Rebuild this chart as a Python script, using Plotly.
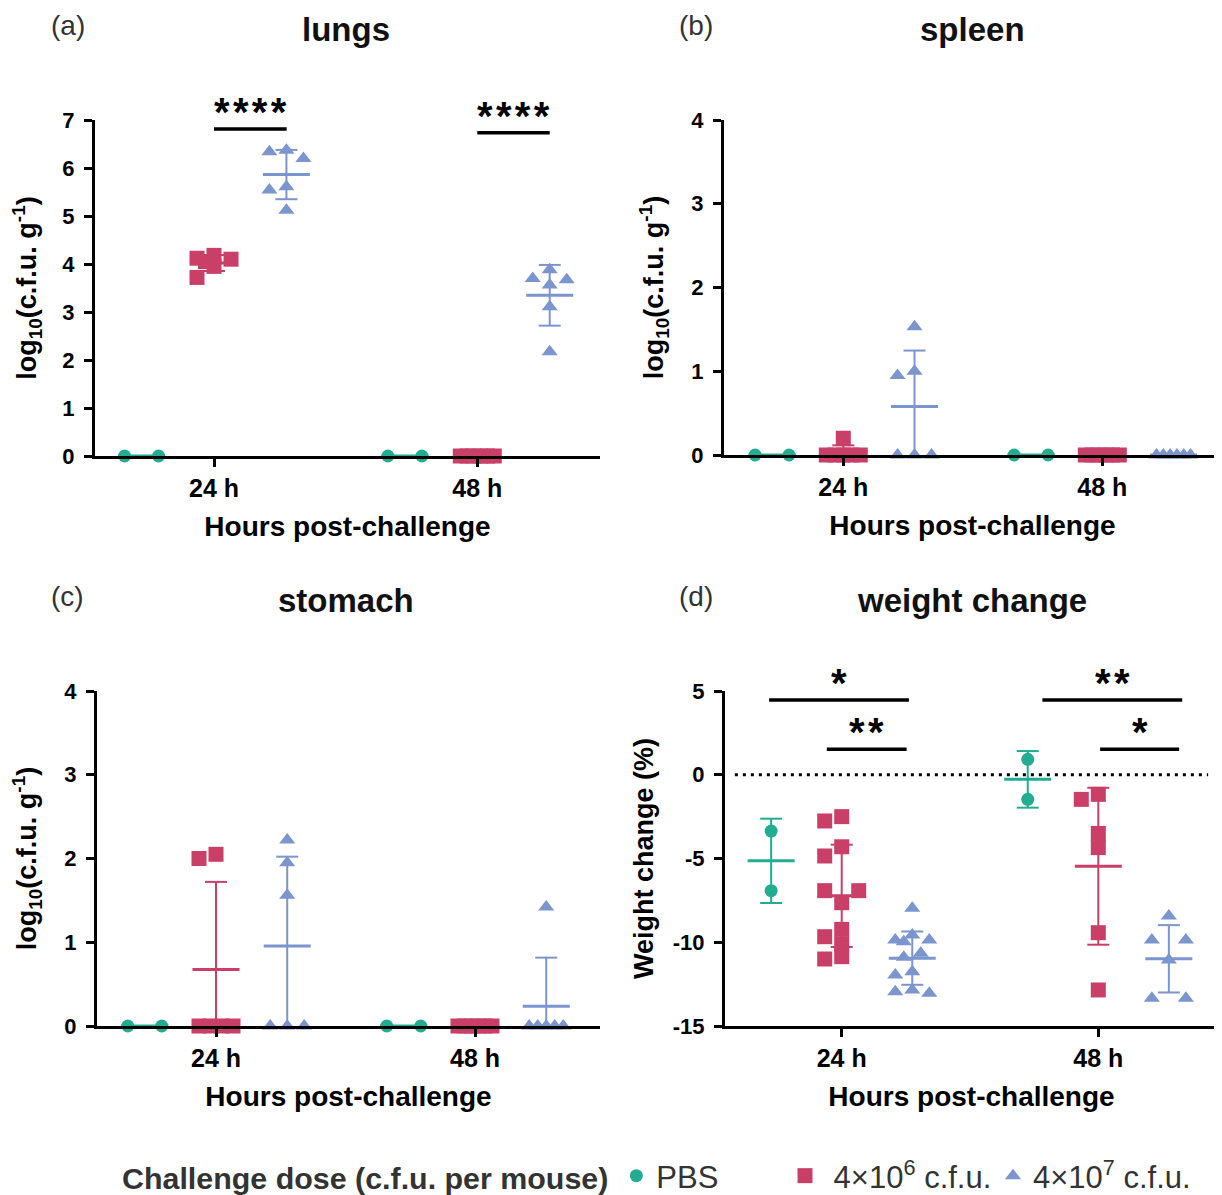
import numpy as np
import plotly.graph_objects as go

# ---------------- data ----------------
time_labels = ["24 h", "48 h"]
group_names = ["PBS", "\u00a04×10<sup>6</sup> c.f.u.", "4×10<sup>7</sup> c.f.u."]

lungs_pbs_24 = [0, 0]
lungs_pbs_48 = [0, 0]
lungs_low_24 = [4.18, 4.12, 4.10, 4.05, 3.95, 3.72]
lungs_low_48 = [0, 0, 0, 0, 0, 0]
lungs_high_24 = [6.34, 6.20, 6.37, 5.61, 5.54, 5.12]
lungs_high_48 = [3.67, 3.70, 3.88, 3.56, 3.11, 2.17]

spleen_pbs_24 = [0, 0]
spleen_pbs_48 = [0, 0]
spleen_low_24 = [0.20, 0, 0, 0, 0, 0]
spleen_low_48 = [0, 0, 0, 0, 0, 0]
spleen_high_24 = [1.53, 1.00, 0.95, 0, 0, 0]
spleen_high_48 = [0, 0, 0, 0, 0, 0]

stomach_pbs_24 = [0, 0]
stomach_pbs_48 = [0, 0]
stomach_low_24 = [2.00, 2.05, 0, 0, 0, 0]
stomach_low_48 = [0, 0, 0, 0, 0, 0]
stomach_high_24 = [2.22, 1.95, 1.56, 0, 0, 0]
stomach_high_48 = [1.42, 0, 0, 0, 0, 0]

weight_pbs_24 = [-3.36, -6.92]
weight_pbs_48 = [0.92, -1.47]
weight_low_24 = [-2.76, -2.50, -4.30, -4.85, -6.92, -6.92, -7.64, -9.23, -9.67, -10.10, -11.00, -10.86]
weight_low_48 = [-1.47, -1.17, -3.50, -4.35, -9.43, -12.85]
weight_high_24 = [-7.97, -9.87, -9.57, -9.97, -9.87, -10.66, -10.90, -11.76, -11.96, -13.05, -12.85, -12.95]
weight_high_48 = [-8.43, -9.87, -9.87, -11.06, -13.35, -13.35]

log_ticks = [0, 1, 2, 3, 4, 5, 6, 7]
log_ticks_small = [0, 1, 2, 3, 4]
weight_ticks = [-15, -10, -5, 0, 5]
weight_ticktext = ["-15", "-10", "-5", "0", "5"]

# ---------------- styles ----------------
W, H = 1222, 1195
OFF = 8  # page body margin offset of the rendered html
COLORS = ["#22AD93", "#C93F68", "#7B95CE"]
SYMBOLS = ["circle", "square", "triangle-up"]
SIZES = [13, 15, 14]
FONT = "Liberation Sans, Arial, sans-serif"
GROUP_OFF = 0.275


def px2x(px):
    return (px - OFF) / W


def px2y(py):
    return 1 - (py - OFF) / H


panels = [
    dict(name="a", title="lungs",
         data=[[lungs_pbs_24, lungs_pbs_48], [lungs_low_24, lungs_low_48], [lungs_high_24, lungs_high_48]],
         L=95, R=600, t1=214, t2=477.3, top=120, bot=456, yr=[0, 7], ticks=log_ticks, ticktext=None,
         ytitle="log<sub>10</sub>(c.f.u. g<sup>-1</sup>)", ystand=20),
    dict(name="b", title="spleen",
         data=[[spleen_pbs_24, spleen_pbs_48], [spleen_low_24, spleen_low_48], [spleen_high_24, spleen_high_48]],
         L=724, R=1221, t1=843.3, t2=1102.3, top=120, bot=455, yr=[0, 4], ticks=log_ticks_small, ticktext=None,
         ytitle="log<sub>10</sub>(c.f.u. g<sup>-1</sup>)", ystand=20),
    dict(name="c", title="stomach",
         data=[[stomach_pbs_24, stomach_pbs_48], [stomach_low_24, stomach_low_48], [stomach_high_24, stomach_high_48]],
         L=97, R=600, t1=216, t2=475, top=691, bot=1026, yr=[0, 4], ticks=log_ticks_small, ticktext=None,
         ytitle="log<sub>10</sub>(c.f.u. g<sup>-1</sup>)", ystand=20),
    dict(name="d", title="weight change",
         data=[[weight_pbs_24, weight_pbs_48], [weight_low_24, weight_low_48], [weight_high_24, weight_high_48]],
         L=725, R=1218, t1=841.7, t2=1098.3, top=691, bot=1026, yr=[-15, 5], ticks=weight_ticks,
         ticktext=weight_ticktext, ytitle="Weight change (%)", ystand=12),
]


def swarm_offsets(values, px_per_y, D=12.0, tie_half=17.0, cands=(0, -8.5, 8.5, -17, 17)):
    vals = list(values)
    n = len(vals)
    offs = [None] * n
    groups = {}
    for i, v in enumerate(vals):
        groups.setdefault(v, []).append(i)
    placed = []
    for v, idxs in groups.items():
        if len(idxs) > 1:
            xs = np.linspace(-tie_half, tie_half, len(idxs))
            for i, x in zip(idxs, xs):
                offs[i] = float(x)
                placed.append((float(x), v * px_per_y))
    order = sorted([i for i in range(n) if offs[i] is None], key=lambda i: -vals[i])
    for i in order:
        y = vals[i] * px_per_y
        best, bestd, chosen = None, -1, None
        for c in cands:
            d = min([max(abs(c - px), abs(y - py)) for px, py in placed], default=1e9)
            if d >= D:
                chosen = c
                break
            if d > bestd:
                bestd, best = d, c
        offs[i] = chosen if chosen is not None else best
        placed.append((offs[i], y))
    return offs


fig = go.Figure()
layout = dict()

for k, p in enumerate(panels):
    idx = "" if k == 0 else str(k + 1)
    xa, ya = "x" + idx, "y" + idx
    u = p["t2"] - p["t1"]
    xr = [1 - (p["t1"] - p["L"]) / u, 2 + (p["R"] - p["t2"]) / u]
    px_x = u
    px_y = (p["bot"] - p["top"]) / (p["yr"][1] - p["yr"][0])
    xdom = [px2x(p["L"]), min(px2x(p["R"]), 1.0)]
    ydom = [px2y(p["bot"]), px2y(p["top"])]

    for g in range(3):
        xs_pts, ys_pts = [], []
        mean_x, mean_y, sd_x, sd_y = [], [], [], []
        for t in range(2):
            vals = p["data"][g][t]
            center = (t + 1) + (g - 1) * GROUP_OFF
            offs = swarm_offsets(vals, px_y)
            xs_pts += [center + o / px_x for o in offs]
            ys_pts += list(vals)
            m = float(np.mean(vals))
            s = float(np.std(vals, ddof=1))
            hw = 23.5 / px_x
            cw = 11.0 / px_x
            mean_x += [center - hw, center + hw, None]
            mean_y += [m, m, None]
            sd_x += [center, center, None, center - cw, center + cw, None, center - cw, center + cw, None]
            sd_y += [m - s, m + s, None, m - s, m - s, None, m + s, m + s, None]
        fig.add_trace(go.Scatter(x=sd_x, y=sd_y, xaxis=xa, yaxis=ya, mode="lines",
                                 line=dict(color=COLORS[g], width=2), showlegend=False,
                                 cliponaxis=False, hoverinfo="skip"))
        fig.add_trace(go.Scatter(x=mean_x, y=mean_y, xaxis=xa, yaxis=ya, mode="lines",
                                 line=dict(color=COLORS[g], width=3), showlegend=False,
                                 cliponaxis=False, hoverinfo="skip"))
        fig.add_trace(go.Scatter(
            x=xs_pts, y=ys_pts, xaxis=xa, yaxis=ya, mode="markers", name=group_names[g],
            marker=dict(symbol=SYMBOLS[g], size=SIZES[g], color=COLORS[g], line=dict(width=0)),
            cliponaxis=False, showlegend=(k == 0),
            legend=["legend", "legend2", "legend3"][g]))

    layout["xaxis" + idx] = dict(
        domain=xdom, range=xr, anchor=ya, showline=True, linecolor="black", linewidth=3,
        ticks="outside", ticklen=8, tickwidth=3, tickcolor="black", tickvals=[1, 2],
        ticktext=time_labels, showgrid=False, zeroline=False, ticklabelstandoff=0,
        automargin=False,
        tickfont=dict(family=FONT, size=25, color="black", weight="bold"),
        title=dict(text="Hours post-challenge", standoff=16,
                   font=dict(family=FONT, size=28, color="black", weight="bold")))
    layout["yaxis" + idx] = dict(
        domain=ydom, range=p["yr"], anchor=xa, showline=True, linecolor="black", linewidth=3,
        ticks="outside", ticklen=8, tickwidth=3, tickcolor="black", tickvals=p["ticks"],
        ticktext=p["ticktext"] if p["ticktext"] else [str(v) for v in p["ticks"]],
        showgrid=False, zeroline=False, ticklabelstandoff=5, automargin=False,
        tickfont=dict(family=FONT, size=22, color="black", weight="bold"),
        title=dict(text=p["ytitle"], standoff=p["ystand"],
                   font=dict(family=FONT, size=27, color="black", weight="bold")))

# ---------------- annotations: titles, panel letters ----------------
ann = []
for p, cx, cy, lx, ly in [(panels[0], 346, 30, 68, 25), (panels[1], 972, 30, 696, 25),
                          (panels[2], 346, 600, 68, 596), (panels[3], 972, 600, 696, 596)]:
    ann.append(dict(text=p["title"], x=px2x(cx), y=px2y(cy), xref="paper", yref="paper",
                    showarrow=False, xanchor="center", yanchor="middle",
                    font=dict(family=FONT, size=33, color="#111", weight="bold")))
    ann.append(dict(text="(" + p["name"] + ")", x=px2x(lx), y=px2y(ly), xref="paper", yref="paper",
                    showarrow=False, xanchor="center", yanchor="middle",
                    font=dict(family=FONT, size=28, color="#333")))

# significance bars and stars
sig = [
    ("x", "y", 1.0, 1.276, 6.81, "*\u200a*\u200a*\u200a*"),
    ("x", "y", 2.0, 2.275, 6.735, "*\u200a*\u200a*\u200a*"),
    ("x4", "y4", 0.717, 1.262, 4.46, "*"),
    ("x4", "y4", 0.942, 1.253, 1.52, "*\u200a*"),
    ("x4", "y4", 1.782, 2.327, 4.46, "*\u200a*"),
    ("x4", "y4", 2.007, 2.315, 1.52, "*"),
]
shapes = []
for xr_, yr_, x0, x1, yv, txt in sig:
    shapes.append(dict(type="line", xref=xr_, yref=yr_, x0=x0, x1=x1, y0=yv, y1=yv,
                       line=dict(color="black", width=3.5)))
    ann.append(dict(text=txt, x=(x0 + x1) / 2, y=yv, xref=xr_, yref=yr_, showarrow=False,
                    xanchor="center", yanchor="middle", yshift=17,
                    font=dict(family=FONT, size=40, color="black", weight="bold")))

# dotted zero line in weight panel
shapes.append(dict(type="line", xref="x4 domain", yref="y4", x0=0.02, x1=0.98, y0=0, y1=0,
                   line=dict(color="black", width=3, dash="3px,5px")))

legend_common = dict(orientation="h", yanchor="bottom", y=0.0, xanchor="left",
                     xref="paper", yref="paper",
                     bgcolor="rgba(0,0,0,0)", itemsizing="trace",
                     font=dict(family=FONT, size=31, color="#333"))

fig.update_layout(
    template="none",
    width=W, height=H, autosize=False,
    margin=dict(l=0, r=0, t=0, b=0, pad=0),
    font=dict(family=FONT, color="black"),
    paper_bgcolor="white", plot_bgcolor="white",
    annotations=ann, shapes=shapes,
    legend=dict(**legend_common, x=px2x(120),
                title=dict(text="Challenge dose (c.f.u. per mouse)", side="left",
                           font=dict(family=FONT, size=30.4, color="#333", weight="bold"))),
    legend2=dict(**legend_common, x=px2x(785)),
    legend3=dict(**legend_common, x=px2x(993)),
    **layout,
)

fig.write_html("out.html")
